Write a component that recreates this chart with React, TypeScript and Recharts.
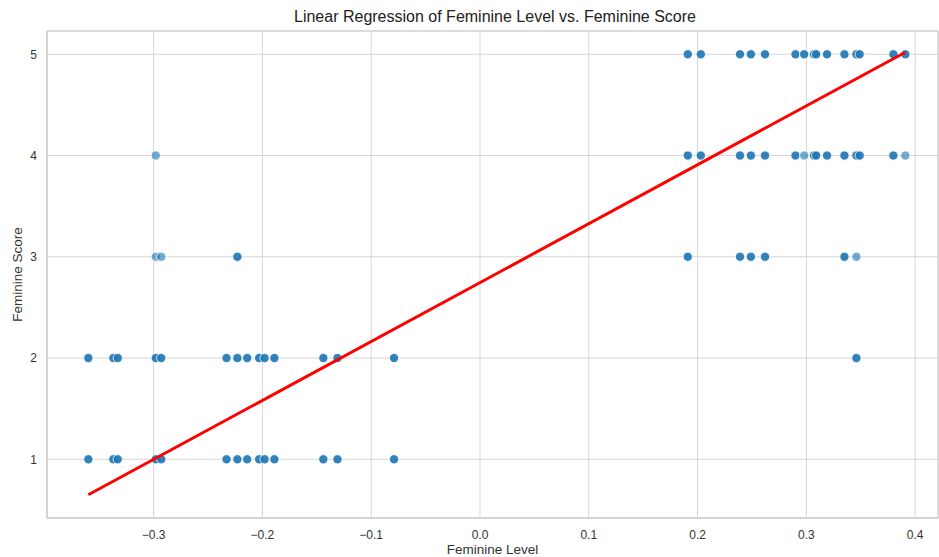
import React from 'react'
import {
  ScatterChart,
  Scatter,
  XAxis,
  YAxis,
  CartesianGrid,
  ReferenceArea,
} from 'recharts'

// feminine level of each observation, grouped by score
const score1Levels = [-0.36, -0.337, -0.333, -0.298, -0.293, -0.233, -0.223, -0.214, -0.203, -0.198, -0.189, -0.144, -0.131, -0.079]
const score2Levels = [-0.36, -0.337, -0.333, -0.298, -0.293, -0.233, -0.223, -0.214, -0.203, -0.198, -0.189, -0.144, -0.131, -0.079, 0.346]
const score3Levels = [-0.298, -0.293, -0.223, 0.191, 0.239, 0.249, 0.262, 0.335, 0.346]
const score4Levels = [-0.298, 0.191, 0.203, 0.239, 0.249, 0.262, 0.29, 0.298, 0.307, 0.309, 0.319, 0.335, 0.346, 0.349, 0.38, 0.391]
const score5Levels = [0.191, 0.203, 0.239, 0.249, 0.262, 0.29, 0.298, 0.307, 0.309, 0.319, 0.335, 0.346, 0.349, 0.38, 0.391]

// points that look like a single observation (drawn lighter)
const singlePoints: [number, number][] = [
  [-0.298, 3],
  [-0.293, 3],
  [0.346, 3],
  [0.298, 4],
  [0.391, 4],
  [-0.298, 4],
]

// fitted regression line end points
const fitLevels = [-0.36, 0.391]
const fitScores = [0.65, 5.02]

const xTicks = [-0.3, -0.2, -0.1, 0.0, 0.1, 0.2, 0.3, 0.4]
const yTicks = [1, 2, 3, 4, 5]

const isSingle = (x: number, y: number) =>
  singlePoints.some(([a, b]) => a === x && b === y)

const points = [
  ...score1Levels.map((x) => ({ x, y: 1 })),
  ...score2Levels.map((x) => ({ x, y: 2 })),
  ...score3Levels.map((x) => ({ x, y: 3 })),
  ...score4Levels.map((x) => ({ x, y: 4 })),
  ...score5Levels.map((x) => ({ x, y: 5 })),
].map((p) => ({ ...p, single: isSingle(p.x, p.y) }))

const fitData = fitLevels.map((x, i) => ({ x, y: fitScores[i] }))

const font = '"Liberation Sans", Arial, sans-serif'
const tickStyle = { fill: '#333', fontSize: 12, fontFamily: font }

const Dot = (props: any) => {
  const { cx, cy, payload } = props
  if (cx == null || cy == null) return <g />
  return (
    <circle
      cx={cx}
      cy={cy}
      r={4.6}
      fill="#1f77b4"
      fillOpacity={payload.single ? 0.62 : 0.92}
      stroke="#fff"
      strokeWidth={0.8}
    />
  )
}

const fmtX = (v: number) => v.toFixed(1).replace('-', '\u2212')

export default function App() {
  return (
    <div style={{ position: 'absolute', left: 0, top: 0, width: 939, height: 557, background: '#fff' }}>
      <div
        style={{
          position: 'absolute',
          top: 8,
          left: 0,
          width: 990,
          textAlign: 'center',
          fontFamily: font,
          fontSize: 16,
          color: '#222',
        }}
      >
        Linear Regression of Feminine Level vs. Feminine Score
      </div>
      <ScatterChart
        width={939}
        height={557}
        margin={{ top: 31, right: 1, bottom: 0, left: 0 }}
      >
        <CartesianGrid stroke="#d6d6d6" strokeWidth={1} />
        <XAxis
          type="number"
          dataKey="x"
          domain={[-0.398, 0.421]}
          ticks={xTicks}
          tickFormatter={fmtX}
          allowDataOverflow
          height={39}
          tickLine={false}
          tickSize={0}
          tickMargin={12}
          axisLine={{ stroke: '#cccccc' }}
          tick={tickStyle}
          label={{
            value: 'Feminine Level',
            position: 'insideBottom',
            offset: 3,
            style: { fill: '#333', fontSize: 13.5, fontFamily: font },
          }}
        />
        <YAxis
          type="number"
          dataKey="y"
          domain={[0.42, 5.23]}
          ticks={yTicks}
          allowDataOverflow
          width={47}
          tickLine={false}
          tickSize={0}
          tickMargin={10}
          axisLine={{ stroke: '#cccccc' }}
          tick={tickStyle}
          label={{
            value: 'Feminine Score',
            angle: -90,
            position: 'insideLeft',
            offset: 17,
            style: { fill: '#333', fontSize: 13.5, fontFamily: font, textAnchor: 'middle' },
          }}
        />
        <ReferenceArea
          x1={-0.398}
          x2={0.421}
          y1={0.42}
          y2={5.23}
          fill="none"
          stroke="#cccccc"
          strokeWidth={1}
          ifOverflow="visible"
        />
        <Scatter data={points} shape={Dot} isAnimationActive={false} />
        <Scatter
          data={fitData}
          line={{ stroke: '#ff0000', strokeWidth: 3 }}
          shape={() => <g />}
          isAnimationActive={false}
        />
      </ScatterChart>
    </div>
  )
}
